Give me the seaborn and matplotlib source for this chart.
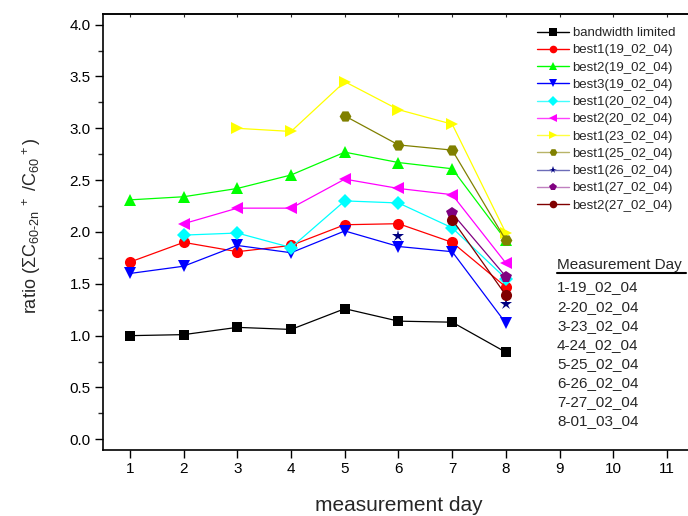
import numpy as np
import seaborn as sns
import matplotlib.pyplot as plt
from matplotlib.lines import Line2D
from matplotlib.ticker import MultipleLocator, FormatStrFormatter

# data
days = [1, 2, 3, 4, 5, 6, 7, 8]
nan = np.nan

bandwidth_limited = [1.00, 1.01, 1.08, 1.06, 1.26, 1.14, 1.13, 0.84]
best1_19 = [1.71, 1.90, 1.81, 1.87, 2.07, 2.08, 1.90, 1.47]
best2_19 = [2.31, 2.34, 2.42, 2.55, 2.77, 2.67, 2.61, 1.92]
best3_19 = [1.60, 1.67, 1.87, 1.80, 2.01, 1.86, 1.81, 1.12]
best1_20 = [nan, 1.97, 1.99, 1.85, 2.30, 2.28, 2.04, 1.55]
best2_20 = [nan, 2.08, 2.23, 2.23, 2.51, 2.42, 2.36, 1.70]
best1_23 = [nan, nan, 3.00, 2.97, 3.45, 3.18, 3.04, 1.99]
best1_25 = [nan, nan, nan, nan, 3.12, 2.84, 2.79, 1.92]
best1_26 = [nan, nan, nan, nan, nan, 1.96, nan, 1.31]
best1_27 = [nan, nan, nan, nan, nan, nan, 2.18, 1.57]
best2_27 = [nan, nan, nan, nan, nan, nan, 2.12, 1.39]

series_names = ['bandwidth limited', 'best1(19_02_04)', 'best2(19_02_04)', 'best3(19_02_04)',
                'best1(20_02_04)', 'best2(20_02_04)', 'best1(23_02_04)', 'best1(25_02_04)',
                'best1(26_02_04)', 'best1(27_02_04)', 'best2(27_02_04)']
series_values = [bandwidth_limited, best1_19, best2_19, best3_19, best1_20, best2_20,
                 best1_23, best1_25, best1_26, best1_27, best2_27]

day_labels = ['1-19_02_04', '2-20_02_04', '3-23_02_04', '4-24_02_04',
              '5-25_02_04', '6-26_02_04', '7-27_02_04', '8-01_03_04']

# styles
colors = ['#000000', '#ff0000', '#00ff00', '#0000ff', '#00ffff', '#ff00ff',
          '#ffff00', '#808000', '#000080', '#800080', '#800000']
legend_line_colors = ['#000000', '#ff0000', '#00ff00', '#0000ff', '#40ffff', '#ff40ff',
                      '#ffff40', '#b8b468', '#6c6cb8', '#c080c0', '#800000']
markers = ['s', 'o', '^', 'v', 'D', '<', '>', 'H', '*', 'p', 'o']
msizes = [7.5, 8, 9, 9, 7, 9, 9, 8.5, 9, 8.5, 8]

sns.set_style('ticks')
plt.rcParams['font.family'] = ['Liberation Sans', 'DejaVu Sans']
plt.rcParams['mathtext.fontset'] = 'custom'
plt.rcParams['mathtext.rm'] = 'Liberation Sans'
plt.rcParams['mathtext.it'] = 'Liberation Sans:italic'
plt.rcParams['mathtext.sf'] = 'Liberation Sans'

fig = plt.figure(figsize=(6.88, 5.16), dpi=100)
ax = fig.add_axes([0.1499, 0.1285, 0.8586, 0.8438])

for name, vals, c, m, ms in zip(series_names, series_values, colors, markers, msizes):
    ls = '' if name == 'best1(26_02_04)' else '-'
    sns.lineplot(x=days, y=vals, color=c, marker=m, markersize=ms, markeredgewidth=0,
                 linewidth=0.9, linestyle=ls, ax=ax)

ax.set_xlim(0.5, 11.5)
ax.set_ylim(-0.1, 4.1)
ax.set_xticks(range(1, 12))
ax.set_yticks(np.arange(0, 4.01, 0.5))
ax.yaxis.set_minor_locator(MultipleLocator(0.25))
ax.yaxis.set_major_formatter(FormatStrFormatter('%.1f'))
ax.tick_params(axis='both', which='major', direction='out', length=5.5, width=1.0,
               labelsize=11, colors='black')
ax.tick_params(axis='y', which='minor', direction='out', length=3.5, width=1.0)
ax.tick_params(axis='x', top=False)
for sp in ax.spines.values():
    sp.set_linewidth(1.2)
    sp.set_color('black')

secax = ax.secondary_xaxis('top')
secax.set_xticks(range(1, 12))
secax.tick_params(direction='in', length=2, width=0.8, labeltop=False)
secax.spines['top'].set_linewidth(1.2)

ax.set_xlabel('measurement day', fontsize=15, labelpad=14)
ax.set_ylabel(r'ratio ($\Sigma\mathrm{C}_{\mathrm{60\text{-}2n}}{}^{\;+}$ /C$_{\mathrm{60}}{}^{\,+}$)',
              fontsize=13)
ax.yaxis.set_label_coords(-0.102, 0.514)

handles = [Line2D([], [], color=lc, lw=1.0, marker=m, markersize=5.5, markeredgewidth=0,
                  markerfacecolor=c)
           for lc, c, m in zip(legend_line_colors, colors, markers)]
fig.legend(handles, series_names, loc='upper left', bbox_to_anchor=(537 / 688, 1 - 27 / 516),
           frameon=False, fontsize=9.5, handlelength=2.4, handletextpad=0.3,
           labelspacing=0.38, borderpad=0, borderaxespad=0)

# measurement day key
fig.text(557 / 688, 1 - 269.5 / 516, 'Measurement Day', fontsize=11, va='baseline')
fig.add_artist(Line2D([557 / 688, 686 / 688], [1 - 272.5 / 516] * 2, color='black', lw=1.5))
for i, lab in enumerate(day_labels):
    fig.text(557 / 688, 1 - (291.5 + i * 19.1) / 516, lab, fontsize=11, va='baseline')

fig.savefig('out.png', dpi=100)
